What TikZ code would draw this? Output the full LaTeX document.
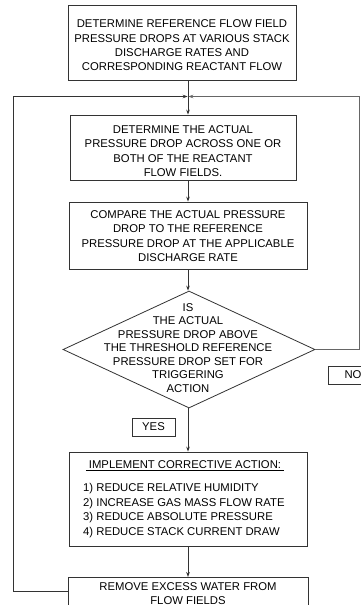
\documentclass[tikz,border=0pt]{standalone}
\usepackage{fontspec}
\setmainfont{Liberation Sans}
\usetikzlibrary{arrows.meta,shapes.geometric}
\begin{document}
\begin{tikzpicture}[x=1pt,y=-1pt,
  ln/.style={draw=black!80,line width=0.8pt},
  box/.style={ln,rectangle,inner sep=0pt,align=center,font=\fontsize{11.3}{14.4}\selectfont},
  txt/.style={inner sep=0pt,align=center,font=\fontsize{11.3}{14.4}\selectfont},
  arr/.style={ln,-{Stealth[length=5pt,width=3.6pt]}}]
\useasboundingbox (0,0) rectangle (361,605);
\clip (0,0) rectangle (361,605);
\fill[white] (0,0) rectangle (361,605);
% boxes
\node[box,minimum width=228,minimum height=75] (b1) at (182,42.5) {};
\node[txt] (b1t) at ([yshift=-3pt]b1.center)
  {DETERMINE REFERENCE FLOW FIELD\\PRESSURE DROPS AT VARIOUS STACK\\DISCHARGE RATES AND\\CORRESPONDING REACTANT FLOW};
\node[box,minimum width=226,minimum height=65] (b2) at (183,147.5) {};
\node[txt] (b2t) at ([yshift=-3.5pt]b2.center)
  {DETERMINE THE ACTUAL\\PRESSURE DROP ACROSS ONE OR\\BOTH OF THE REACTANT\\FLOW FIELDS.};
\node[box,minimum width=238,minimum height=67] (b3) at (188,235.5) {};
\node[txt] (b3t) at ([yshift=-0.5pt]b3.center)
  {COMPARE THE ACTUAL PRESSURE\\DROP TO THE REFERENCE\\PRESSURE DROP AT THE APPLICABLE\\DISCHARGE RATE};
\node[ln,diamond,minimum width=252,minimum height=117,inner sep=0pt] (d) at (189,349.5) {};
\node[txt,font=\fontsize{11.3}{13.5}\selectfont] (dt) at (188,348)
  {IS\\THE ACTUAL\\PRESSURE DROP ABOVE\\THE THRESHOLD REFERENCE\\PRESSURE DROP SET FOR\\TRIGGERING\\ACTION};
\node[box,minimum width=50,minimum height=18] (no) at (353,375) {NO};
\node[box,minimum width=43,minimum height=18] (yes) at (153.5,427) {YES};
\node[box,minimum width=238,minimum height=94] (b4) at (188,499) {};
\node[txt] (b4t) at (185,466) {\underline{\ IMPLEMENT CORRECTIVE ACTION:\ }};
\node[txt,align=left,anchor=north west,font=\fontsize{11.3}{14.7}\selectfont] (b4l) at (83,483)
  {1) REDUCE RELATIVE HUMIDITY\\2) INCREASE GAS MASS FLOW RATE\\3) REDUCE ABSOLUTE PRESSURE\\4) REDUCE STACK CURRENT DRAW};
\node[box,minimum width=240,anchor=north,inner ysep=5.5pt,font=\fontsize{11.3}{13.5}\selectfont] (b5) at (188,577)
  {REMOVE EXCESS WATER FROM\\FLOW FIELDS};
% junction
\coordinate (j) at (188,96.5);
\coordinate (lc) at (13,96.5);
\coordinate (rc) at (359.5,96.5);
\draw[ln] (b1.south -| j) -- (j);
\draw[arr] (j) -- (b2.north -| j);
\draw[arr] (b2.south -| j) -- (b3.north -| j);
\draw[arr] (b3.south -| j) -- (d.north -| j);
\draw[arr] (d.south -| j) -- (b4.north -| j);
\draw[arr] (b4.south -| j) -- (b5.north -| j);
% loops
\draw[arr] (b5.west |- 0,591) -- (13,591) -- (lc) -- ([xshift=-0.4pt]j);
\draw[arr,draw=black!60] (d.east) -- (rc |- d.east) -- (rc) -- ([xshift=0.4pt]j);
\end{tikzpicture}
\end{document}
